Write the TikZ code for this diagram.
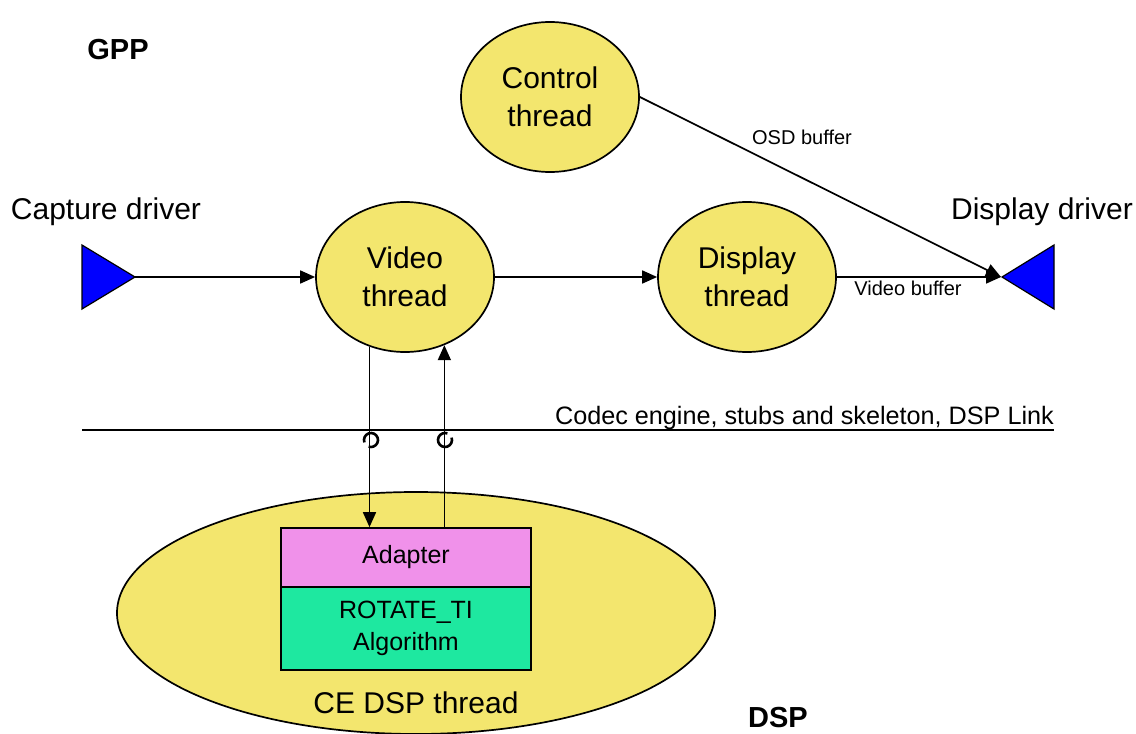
\documentclass[tikz,border=0pt]{standalone}
\usepackage{fontspec}
\setmainfont{Liberation Sans}
\usetikzlibrary{shapes.geometric,arrows.meta,calc}
\definecolor{thr}{RGB}{243,230,110}
\definecolor{adp}{RGB}{240,145,234}
\definecolor{alg}{RGB}{30,232,160}
\begin{document}
\begin{tikzpicture}[x=1pt,y=-1pt,
  thread/.style={ellipse,draw,line width=1.7pt,fill=thr,minimum width=178pt,minimum height=150pt,inner sep=0pt,align=center,font=\fontsize{30}{38}\selectfont},
  big/.style={font=\fontsize{30}{38}\selectfont},
  small/.style={font=\fontsize{20}{24}\selectfont},
  mid/.style={font=\fontsize{25.2}{28}\selectfont},
  boxs/.style={rectangle,draw,line width=1.7pt,minimum width=250pt,inner sep=0pt,align=center,font=\fontsize{25}{32}\selectfont},
  conn/.style={line width=1.7pt,-{Triangle[length=15pt,width=13pt]}},
  plain/.style={line width=1.7pt},
  loopm/.style={line width=2.6pt}
]
\useasboundingbox (0,0) rectangle (1136,734);
% DSP ellipse
\node[ellipse,draw,line width=1.7pt,fill=thr,minimum width=598pt,minimum height=242pt] (ce) at (416,613) {};
\node[big] (celabel) at (416,703) {CE DSP thread};
\node[boxs,fill=adp,minimum height=59pt] (adapter) at (406,557.5) {Adapter};
\node[boxs,fill=alg,minimum height=83pt] (rot) at (406,628.5) {ROTATE\_TI\\Algorithm};

% threads
\node[thread] (ctrl) at (550,97) {Control\\thread};
\node[thread] (vid) at (405,277) {Video\\thread};
\node[thread] (disp) at (747,277) {Display\\thread};

% drivers
\draw[line width=1.2pt,fill=blue] (82,245) -- (135,277) -- (82,309) -- cycle;
\coordinate (ctip) at (135,277);
\draw[line width=1.2pt,fill=blue] (1054,245) -- (1002,277) -- (1054,309) -- cycle;
\coordinate (dtip) at (1001,277);
\node[big] (caplabel) at (106,212) {Capture driver};
\node[big] (displabel) at (1042,212) {Display driver};

\node[font=\fontsize{29}{32}\selectfont\bfseries] (gpp) at (118,50) {GPP};
\node[font=\fontsize{29}{32}\selectfont\bfseries] (dsp) at (778,718) {DSP};

% connectors
\draw[conn] (ctip) -- (vid.west);
\draw[conn] (vid.east) -- (disp.west);
\draw[conn] (disp.east) -- (dtip);
\node[small] (vb) at (908,288) {Video buffer};
\draw[conn] (ctrl.east) -- (dtip);
\node[small] (osd) at (802,137) {OSD buffer};

% codec line
\coordinate (cl) at (82,430);
\coordinate (cr) at (1054,430);
\draw[plain] (cl) -- (cr);
\node[mid,anchor=base east,inner sep=0pt] (codec) at (1054,424) {Codec engine, stubs and skeleton, DSP Link};

% vertical arrows
\coordinate (vd) at (vid.243.8);
\coordinate (vu) at (vid.300.8);
\draw[conn] (vd) -- (vd |- adapter.north);
\draw[conn] (vu |- adapter.north) -- (vu);
% loops
\draw[loopm] (371,440) ++(160:7) arc[start angle=160,end angle=470,radius=7];
\draw[loopm] (445,440) ++(-20:7) arc[start angle=-20,end angle=290,radius=7];
\end{tikzpicture}
\end{document}
